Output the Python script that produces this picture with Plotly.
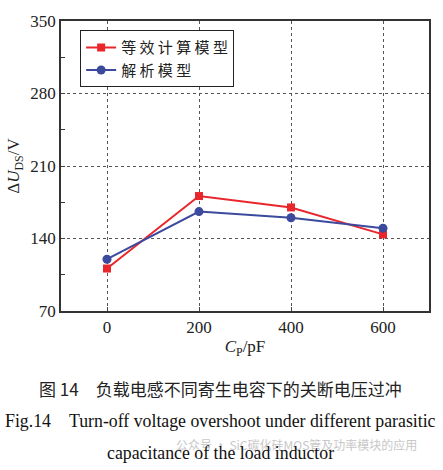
import plotly.graph_objects as go

cp = [0, 200, 400, 600]
equiv_model = [111, 181, 170, 144]
analytic_model = [120, 166, 160, 150]
x_ticks = [0, 200, 400, 600]
y_ticks = [70, 140, 210, 280, 350]

SERIF = "Liberation Serif, Times New Roman, serif"
CJK = "Noto Sans CJK SC"

fig = go.Figure()
fig.add_trace(go.Scatter(x=cp, y=equiv_model, mode="lines+markers", name="等 效 计 算 模 型",
                         line=dict(color="#e8262c", width=2),
                         marker=dict(symbol="square", size=8, color="#e8262c")))
fig.add_trace(go.Scatter(x=cp, y=analytic_model, mode="lines+markers", name="解 析 模 型",
                         line=dict(color="#3b4a9c", width=2),
                         marker=dict(symbol="circle", size=9, color="#3b4a9c")))

fig.update_layout(
    width=443, height=470,
    margin=dict(l=60, r=14, t=15, b=159),
    plot_bgcolor="white", paper_bgcolor="white",
    font=dict(family=SERIF, size=16, color="#222"),
    legend=dict(x=0.052, y=0.968, xanchor="left", yanchor="top",
                bordercolor="#222", borderwidth=1, bgcolor="white",
                font=dict(family=CJK, size=15, color="#222"),
                tracegroupgap=0, itemwidth=30),
    xaxis=dict(range=[-100, 700], tickvals=x_ticks, showline=True, mirror=True,
               linecolor="#333", linewidth=1.5, ticks="inside", ticklen=4,
               showgrid=True, gridcolor="#555", griddash="dot", gridwidth=1,
               zeroline=False,
               title=dict(text="<i>C</i><sub>P</sub>/pF", standoff=4,
                          font=dict(family=SERIF, size=17)),
               tickfont=dict(family=SERIF, size=17)),
    yaxis=dict(range=[70, 350], tickvals=y_ticks, showline=True, mirror=True,
               linecolor="#333", linewidth=1.5, ticks="inside", ticklen=4,
               showgrid=True, gridcolor="#555", griddash="dot", gridwidth=1,
               zeroline=False,
               minor=dict(dtick=35, ticks="inside", ticklen=4, showgrid=False, tickcolor="#333"),
               title=dict(text="Δ<i>U</i><sub>DS</sub>/V", standoff=6,
                          font=dict(family=SERIF, size=17)),
               tickfont=dict(family=SERIF, size=17)),
)

fig.add_annotation(text="图 14　负载电感不同寄生电容下的关断电压过冲", xref="paper", yref="paper",
                   x=0.434, y=-0.267, showarrow=False, yanchor="middle",
                   font=dict(family=CJK, size=17, color="#222"))
fig.add_annotation(text="公众号 · SiC碳化硅MOS管及功率模块的应用", xref="paper", yref="paper",
                   x=0.64, y=-0.46, showarrow=False, yanchor="middle",
                   font=dict(family=CJK, size=12, color="#c8c8c8"))
fig.add_annotation(text="Fig.14　Turn-off voltage overshoot under different parasitic", xref="paper", yref="paper",
                   x=0.434, y=-0.378, showarrow=False, yanchor="middle",
                   font=dict(family=SERIF, size=17.8, color="#111"))
fig.add_annotation(text="capacitance of the load inductor", xref="paper", yref="paper",
                   x=0.434, y=-0.49, showarrow=False, yanchor="middle",
                   font=dict(family=SERIF, size=17.8, color="#111"))

fig.write_html("out.html", config={"displayModeBar": False},
               post_script="document.body.style.margin='0';")
